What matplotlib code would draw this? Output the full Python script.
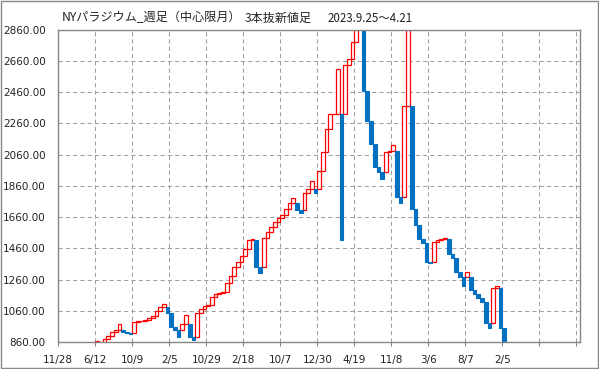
import numpy as np
import matplotlib.pyplot as plt
from matplotlib.patches import Rectangle

# ==========================================
# Data: 3-line break closes (one per brick)
# ==========================================
first_open = 740
closes = [
    770, 720, 700, 690, 745, 780, 800, 770, 820, 850,
    866, 830, 879, 900, 927, 936, 980, 926, 921, 915,
    988, 996, 999, 1002, 1017, 1030, 1062, 1083, 1107, 1045,
    960, 939, 896, 979, 1032, 892, 877, 1045, 1075, 1092,
    1096, 1152, 1171, 1177, 1181, 1237, 1281, 1339, 1373, 1411,
    1458, 1511, 1518, 1343, 1305, 1530, 1566, 1600, 1628, 1652,
    1671, 1715, 1752, 1784, 1707, 1684, 1813, 1843, 1893, 1812,
    1957, 2074, 2227, 2317, 2321, 2605, 1513, 2630, 2673, 2777,
    2870, 2950, 2468, 2276, 2125, 1982, 1950, 1901, 2074, 2082,
    2119, 1786, 1748, 2373, 3200, 1710, 1610, 1522, 1493, 1375,
    1364, 1500, 1511, 1520, 1525, 1423, 1402, 1308, 1280, 1223,
    1308, 1195, 1167, 1146, 1116, 982, 954, 1206, 1223, 950,
    871,
]
n_categories = 141
date_labels = ['11/28', '6/12', '10/9', '2/5', '10/29', '2/18', '10/7',
               '12/30', '4/19', '11/8', '3/6', '8/7', '2/5', '', '']
y_ticks = np.arange(860, 2861, 200)

# open of each brick: top of previous for up, bottom of previous for down
opens = []
lo, hi = first_open, first_open
for c in closes:
    o = hi if c > hi else lo
    opens.append(o)
    lo, hi = min(o, c), max(o, c)
opens = np.array(opens)
closes = np.array(closes)
x = np.arange(len(closes)) + 0.5
up = closes > opens

# ==========================================
# Plot
# ==========================================
fig = plt.figure(figsize=(5.99, 3.69), dpi=100)
ax = fig.add_axes([58.3 / 599, 1 - 342.3 / 369, (580 - 58.3) / 599, (342.3 - 29.5) / 369])

ax.bar(x[up], (closes - opens)[up], bottom=opens[up], width=1.0,
       facecolor='white', edgecolor='#FF0000', linewidth=0.9, zorder=3)
ax.bar(x[~up], (closes - opens)[~up], bottom=opens[~up], width=1.0,
       facecolor='#0070C0', edgecolor='#0070C0', linewidth=0.8, zorder=4)

ax.set_xlim(0, n_categories)
ax.set_ylim(860, 2860)
ax.set_xticks(np.arange(0, n_categories, 10))
ax.set_xticklabels(date_labels)
ax.set_yticks(y_ticks)
ax.set_yticklabels([f'{v:.2f}' for v in y_ticks])

ax.grid(True, color='#A0A0A0', linestyle=(0, (4, 3)), linewidth=0.75, zorder=0)
ax.set_axisbelow(True)
for s in ax.spines.values():
    s.set_color('#868686')
    s.set_linewidth(1.0)
    s.set_zorder(5)
ax.tick_params(axis='x', length=3, color='#868686', labelsize=7.5, pad=6, labelcolor='#222222')
ax.tick_params(axis='y', length=0, labelsize=7.5, pad=9, labelcolor='#222222')

# title pieces
jp = ['Noto Sans CJK JP', 'DejaVu Sans']
fig.text(62 / 599, 1 - 18 / 369, 'NYパラジウム_週足（中心限月）', family=jp,
         fontsize=8.7, va='center', ha='left', color='#222222')
fig.text(245 / 599, 1 - 18 / 369, '3本抜新値足', family=jp,
         fontsize=8.7, va='center', ha='left', color='#222222')
fig.text(328 / 599, 1 - 18 / 369, '2023.9.25〜4.21', family=jp,
         fontsize=8.3, va='center', ha='left', color='#222222')

fig.patches.append(Rectangle((0.001, 0.002), 0.997, 0.996, transform=fig.transFigure,
                             fill=False, edgecolor='#888888', linewidth=1))

plt.savefig('out.png', dpi=100)
